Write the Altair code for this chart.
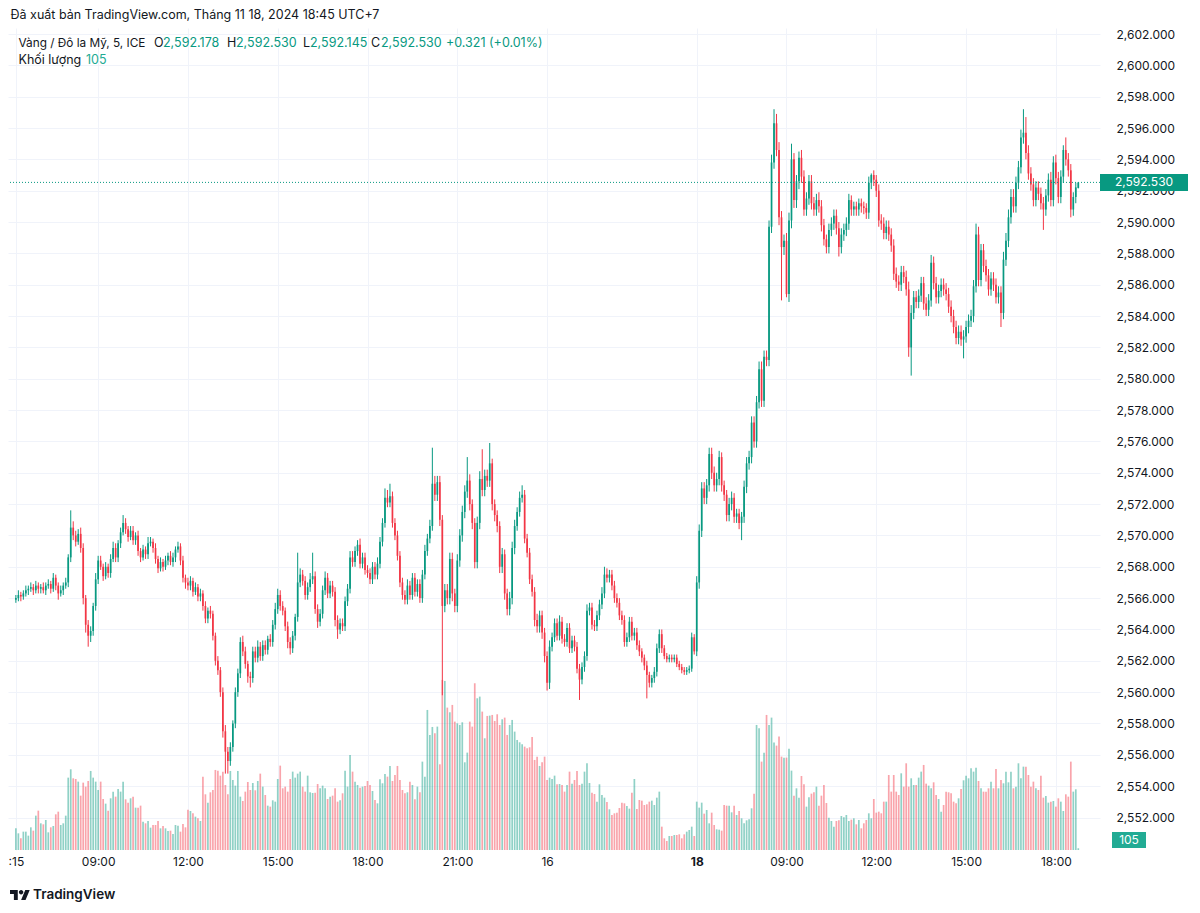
import altair as alt
import pandas as pd

# ---------------- data ----------------
CLOSE = [
 2566.0, 2566.2, 2566.1, 2566.3, 2566.5, 2566.6, 2566.7, 2566.5, 2566.8, 2566.6,
 2566.7, 2566.5, 2566.8, 2566.9, 2566.6, 2567.3, 2566.8, 2566.3, 2566.5, 2566.8,
 2567.0, 2568.6, 2570.5, 2570.0, 2569.6, 2570.1, 2569.2, 2566.0, 2564.3, 2563.6,
 2563.9, 2565.5, 2567.2, 2568.4, 2568.0, 2567.4, 2568.0, 2567.6, 2568.5, 2569.2,
 2568.6, 2569.5, 2570.2, 2570.8, 2570.4, 2569.9, 2570.3, 2569.7, 2570.0, 2569.0,
 2568.6, 2569.1, 2568.8, 2569.5, 2569.6, 2569.2, 2568.5, 2567.9, 2568.3, 2568.0,
 2568.4, 2568.7, 2568.3, 2568.6, 2569.1, 2569.3, 2568.4, 2567.3, 2567.0, 2566.8,
 2567.1, 2566.4, 2566.7, 2566.1, 2566.3, 2565.5, 2564.7, 2565.2, 2565.0, 2563.6,
 2562.0, 2561.4, 2560.0, 2557.5, 2556.2, 2555.6, 2556.5, 2558.0, 2560.0, 2561.2,
 2563.2, 2562.6, 2561.8, 2561.0, 2560.9, 2562.6, 2562.2, 2562.9, 2562.3, 2563.0,
 2562.7, 2563.4, 2563.2, 2564.3, 2565.3, 2566.2, 2565.5, 2565.2, 2564.2, 2563.2,
 2562.8, 2563.6, 2564.8, 2567.0, 2567.5, 2567.1, 2566.2, 2566.7, 2567.2, 2567.4,
 2565.3, 2564.5, 2565.0, 2566.5, 2567.3, 2566.3, 2566.8, 2566.4, 2564.6, 2564.0,
 2564.4, 2564.2, 2565.8, 2566.6, 2568.6, 2568.3, 2569.0, 2569.4, 2568.2, 2568.6,
 2567.8, 2567.6, 2567.2, 2568.0, 2567.5, 2568.2, 2569.6, 2570.8, 2572.4, 2572.1,
 2572.5, 2570.8, 2570.0, 2568.7, 2567.0, 2566.2, 2565.9, 2566.8, 2566.2, 2567.3,
 2566.4, 2566.9, 2566.0, 2567.5, 2569.0, 2569.8, 2570.6, 2573.3, 2572.6, 2573.4,
 2571.0, 2565.5, 2566.5, 2566.0, 2568.5, 2566.3, 2565.5, 2568.4, 2570.0, 2571.5,
 2572.8, 2573.5, 2572.0, 2570.8, 2568.3, 2570.8, 2573.6, 2572.9, 2573.8, 2573.5,
 2574.6, 2572.0, 2571.3, 2570.6, 2568.0, 2568.8, 2566.3, 2565.3, 2566.0, 2569.2,
 2570.6, 2571.5, 2572.4, 2572.6, 2569.8, 2568.9, 2567.2, 2566.4, 2564.6, 2564.2,
 2564.9, 2563.8, 2562.3, 2560.6, 2562.9, 2563.5, 2564.4, 2563.6, 2564.5, 2563.4,
 2563.2, 2564.1, 2562.8, 2563.3, 2562.9, 2561.5, 2560.8, 2561.6, 2562.3, 2565.2,
 2565.4, 2564.3, 2564.2, 2564.9, 2565.6, 2566.3, 2567.5, 2567.3, 2567.5, 2566.8,
 2566.0, 2565.7, 2564.9, 2564.6, 2563.2, 2563.5, 2564.5, 2563.6, 2563.8, 2563.0,
 2562.6, 2562.2, 2561.7, 2561.1, 2560.6, 2560.9, 2561.3, 2562.8, 2563.7, 2562.8,
 2562.3, 2562.1, 2562.2, 2562.1, 2562.2, 2561.8, 2561.6, 2561.4, 2561.3, 2561.4,
 2561.5, 2563.5, 2562.6, 2567.0, 2570.3, 2573.0, 2572.4, 2573.2, 2575.2, 2574.0,
 2573.2, 2573.6, 2575.0, 2573.2, 2572.6, 2571.3, 2572.0, 2572.4, 2571.2, 2571.4,
 2570.8, 2571.2, 2573.1, 2574.6, 2575.0, 2577.2, 2576.0, 2578.5, 2580.6, 2578.6,
 2581.4, 2581.2, 2589.7, 2593.8, 2596.3, 2594.6, 2590.3, 2588.4, 2588.8, 2585.4,
 2590.1, 2594.0, 2591.4, 2592.6, 2594.1, 2592.9, 2590.8, 2591.5, 2592.6, 2591.2,
 2590.8, 2591.4, 2591.0, 2589.8, 2588.9, 2588.4, 2589.5, 2589.9, 2590.4, 2589.6,
 2588.4, 2589.2, 2589.5, 2589.9, 2591.4, 2590.8, 2591.0, 2590.8, 2591.2, 2591.0,
 2590.9, 2590.6, 2592.5, 2593.0, 2592.7, 2592.0, 2590.1, 2589.9, 2589.3, 2589.7,
 2589.2, 2588.5, 2586.7, 2586.2, 2586.0, 2586.8, 2586.5, 2585.7, 2582.0, 2584.2,
 2585.2, 2584.9, 2585.3, 2586.1, 2584.8, 2584.4, 2585.0, 2587.4, 2586.1, 2585.2,
 2585.6, 2586.0, 2585.7, 2585.4, 2584.6, 2584.0, 2583.3, 2582.6, 2583.0, 2582.5,
 2582.7, 2583.3, 2583.7, 2584.0, 2585.9, 2589.2, 2586.3, 2588.2, 2587.2, 2586.6,
 2585.7, 2586.4, 2586.0, 2585.2, 2585.5, 2584.2, 2587.6, 2588.8, 2590.3, 2591.6,
 2591.0, 2592.5, 2593.5, 2595.4, 2595.7, 2594.4, 2593.1, 2592.4, 2591.4, 2592.2,
 2591.8, 2591.2, 2590.8, 2591.7, 2592.7, 2591.4, 2593.8, 2592.8, 2591.6, 2592.9,
 2594.6, 2594.0, 2593.3, 2590.8, 2591.6, 2592.21, 2592.53]

# upper / lower wick lengths, in tenths of a dollar
UP_WICK = [
 2,3,2,2,3,2,3,2,3,2, 2,3,2,3,2,3,2,2,3,2, 3,2,11,4,3,3,4,3,2,3, 3,2,4,3,3,2,3,2,3,4,
 3,2,3,5,3,2,3,3,2,3, 2,3,2,4,3,2,3,2,3,2, 3,2,3,3,2,3,2,3,2,3, 3,2,3,2,3,2,3,2,3,2,
 2,3,2,3,4,3,3,2,3,3, 3,4,3,2,3,3,3,4,3,3, 3,2,3,3,4,4,3,3,2,3, 3,3,2,19,4,3,3,3,4,15,
 3,3,3,3,4,3,3,3,3,3, 3,3,3,3,4,4,3,3,4,3, 3,3,3,3,3,4,3,3,6,5, 8,3,3,3,3,3,3,4,3,3,
 3,3,3,3,4,3,4,23,5,4, 4,3,4,4,4,4,3,4,4,4, 4,15,4,3,3,4,5,19,4,4, 13,3,3,3,3,4,3,3,4,4,
 4,3,4,6,3,3,3,3,3,4, 3,3,3,3,4,3,3,3,4,3, 3,3,3,3,3,3,3,3,3,4, 3,3,3,3,3,4,5,4,3,3,
 3,3,3,3,3,3,3,3,3,3, 3,2,2,3,2,2,3,3,3,3, 2,2,2,2,2,2,2,2,2,2, 2,3,2,4,4,4,4,4,4,4,
 4,4,4,3,3,3,4,4,3,3, 3,3,4,4,4,4,4,4,5,5, 4,4,4,5,9,6,5,4,4,5, 5,10,4,4,4,5,4,4,4,4,
 4,4,5,4,4,3,4,4,4,4, 4,4,4,4,4,3,3,3,3,3, 3,3,4,1,3,3,4,4,4,4, 4,4,4,4,4,4,4,4,5,5,
 4,4,4,4,4,4,4,5,4,4, 4,4,4,4,4,4,4,4,4,4, 4,4,4,4,4,7,5,4,4,4, 4,4,4,4,4,4,5,5,5,5,
 5,4,4,5,15,10,5,4,4,4, 4,4,4,4,4,5,4,5,4,4, 3,8,4,4,3,3,0]
DOWN_WICK = [
 2,2,3,2,2,3,2,3,2,3, 3,2,3,2,3,2,3,4,2,3, 2,3,3,3,3,2,3,4,5,7, 4,3,3,3,2,3,2,3,3,2,
 3,3,3,2,3,3,2,3,3,3, 3,2,3,3,2,3,3,3,2,3, 2,3,2,3,3,2,3,3,4,3, 3,3,2,3,3,3,3,3,3,3,
 3,3,3,4,14,8,3,3,3,3, 3,3,3,4,6,3,3,3,3,3, 3,3,3,3,3,3,3,3,3,4, 4,3,3,3,3,3,3,3,3,3,
 3,4,3,3,3,3,3,3,4,6, 3,3,3,3,3,3,3,3,3,3, 3,3,3,3,3,3,3,3,3,3, 3,3,3,3,3,3,3,3,3,3,
 3,3,3,3,3,3,3,3,4,4, 4,57,4,4,4,5,4,4,4,4, 4,4,4,4,4,4,4,4,4,4, 4,4,4,4,4,4,4,4,4,4,
 4,3,3,3,3,3,3,3,4,4, 4,4,4,5,4,3,3,3,3,3, 3,3,3,3,3,3,13,3,3,3, 3,3,3,3,3,3,3,3,3,3,
 3,3,3,3,3,3,3,3,3,3, 3,3,3,15,3,3,3,3,3,3, 2,2,2,2,2,2,2,2,2,2, 2,2,2,3,4,4,4,4,4,4,
 4,4,4,4,4,4,4,4,4,4, 4,11,4,4,4,4,4,4,4,4, 4,4,4,4,4,4,5,34,5,2, 5,5,5,5,5,4,4,4,4,4,
 4,4,4,4,4,4,4,4,4,4, 6,4,4,4,4,4,4,4,4,4, 4,4,4,4,4,4,4,4,4,4, 4,4,4,4,4,4,4,4,6,18,
 4,4,4,4,4,4,4,4,4,4, 4,4,4,4,4,4,4,4,4,4, 12,4,4,4,4,4,4,4,4,4, 4,4,4,4,4,9,4,4,4,4,
 4,4,4,4,4,4,4,4,4,4, 4,4,13,4,4,4,4,4,4,4, 4,4,4,5,4,4,0]
VOLUME = [
 1300,1000,700,1100,1100,860,1360,1160,2060,2360, 1600,1540,1800,1060,1360,1440,2140,2300,1500,1600,
 2060,4340,4840,4300,4260,4100,3260,4040,3800,4140, 4740,4340,4100,3600,4100,3060,2780,2360,3100,3500,
 3200,3660,3500,4100,3040,2840,3100,3200,2540,2540, 2660,1700,1600,1740,1340,1500,1500,1740,1300,1440,
 1300,1140,1160,960,1500,1460,1100,1560,1360,2420, 2340,2200,2000,1900,1740,4400,3340,2840,3460,3600,
 4800,4760,4460,4700,3900,3340,4740,4200,3860,4740, 3200,2940,3500,4080,3600,4020,3580,4140,4580,3800,
 3300,2660,2600,2980,2900,4260,5060,3700,3800,3500, 4260,4700,4340,4580,4700,3800,3500,4460,3460,3420,
 3440,3960,3700,3860,3700,3060,3200,3260,3700,2900, 2980,3400,4760,3800,5700,4700,4100,3900,3740,3800,
 3840,4140,3900,3540,3000,2800,4240,4000,4560,4400, 5040,4140,4500,5040,4200,3600,3400,3460,4100,3900,
 3040,3800,3460,5300,4400,8400,6900,7380,7000,7400, 5140,10200,10140,8540,8260,8700,7700,7600,7500,7660,
 5260,5840,7700,7400,10000,9100,9200,8300,6700,8040, 8060,8100,7740,8140,7500,7840,7940,6900,7500,7800,
 7100,6600,6460,6340,6200,6100,6160,6780,5400,5600, 5040,5260,5600,4200,4340,4260,4460,3940,3960,3900,
 3500,3900,4700,3980,4200,4740,3900,3980,4700,5200, 4020,3440,3360,2900,3940,3300,3140,2880,2440,2100,
 2200,2240,2520,2840,2800,2640,2480,3440,4260,2460, 3000,2960,2700,2740,2900,2960,2700,3140,3500,1400,
 700,540,840,840,900,900,940,700,940,1100, 1200,1400,840,2900,2540,2840,2180,2400,1600,2240,
 1500,1240,1220,1160,2700,2660,2660,2260,2660,2100, 2340,1900,1600,1780,1840,2500,3380,7500,7300,5300,
 5840,8100,7500,7940,6440,6260,6800,5600,5540,5540, 6080,4760,3260,3700,3140,4440,3940,2600,3160,3380,
 3460,3800,2660,3260,3900,2820,1940,1740,1400,1740, 1780,2040,1960,2100,1740,1820,1900,1540,1800,1300,
 1600,1800,2200,1900,3060,2240,2300,2200,2900,2900, 4500,3500,4500,3500,3300,4600,3800,5200,3800,4300,
 3900,3900,4340,4700,5100,3980,3860,3700,4060,3300, 3060,2300,2700,3500,3460,3400,2900,2800,3100,3660,
 4180,4460,4300,4900,4700,4940,4140,3700,3500,3500, 3700,4100,3700,4860,3700,4200,4000,4700,4060,4700,
 3700,3800,5200,4300,5000,5000,4500,3800,4100,3700, 3600,4460,3140,3240,2840,2900,2940,2600,3100,2900,
 2340,3340,3200,5300,3500,3640,105]

FIRST_OPEN = 2565.9
LAST_OPEN, LAST_HIGH, LAST_LOW, LAST_CLOSE = 2592.178, 2592.530, 2592.145, 2592.530
LAST_VOLUME = 105

X_TICK_IDX = [0, 33, 69, 105, 141, 177, 213, 273, 309, 345, 381, 417]
X_TICK_LABELS = [":15", "09:00", "12:00", "15:00", "18:00", "21:00", "16", "18",
                 "09:00", "12:00", "15:00", "18:00"]
BOLD_TICK = 273
PRICE_TICKS = [2552, 2554, 2556, 2558, 2560, 2562, 2564, 2566, 2568, 2570, 2572, 2574, 2576,
               2578, 2580, 2582, 2584, 2586, 2588, 2590, 2592, 2594, 2596, 2598, 2600, 2602]

HEADER = "Đã xuất bản TradingView.com, Tháng 11 18, 2024 18:45 UTC+7"
SYMBOL = "Vàng / Đô la Mỹ, 5, ICE"
OHLC_KEYS = ["O", "H", "L", "C"]
OHLC_VALS = ["2,592.178", "2,592.530", "2,592.145", "2,592.530"]
CHANGE = "+0.321 (+0.01%)"
VOL_TITLE = "Khối lượng"
VOL_VALUE = "105"
LOGO_TEXT = "TradingView"

# ---------------- styling ----------------
FONT = "Inter"
TXT = "#131722"
GRID = "#f0f3fa"
UPC = "#089981"
DNC = "#f23645"
VOLC = "#22ab94"

n = min(len(CLOSE), len(UP_WICK), len(DOWN_WICK), len(VOLUME))
close = CLOSE[:n]
opens = [FIRST_OPEN] + close[:-1]
opens[-1] = LAST_OPEN
highs = [max(o, c) + u / 10 for o, c, u in zip(opens, close, UP_WICK[:n])]
lows = [min(o, c) - d / 10 for o, c, d in zip(opens, close, DOWN_WICK[:n])]
highs[-1], lows[-1] = LAST_HIGH, LAST_LOW
df = pd.DataFrame({"i": list(range(n)), "o": opens, "c": close, "h": highs, "l": lows,
                   "v": VOLUME[:n]})

W, H = 1092, 822
xscale = alt.Scale(domain=[-1.15, 432.7], nice=False, zero=False)
yscale = alt.Scale(domain=[2549.926, 2602.383], nice=False, zero=False)

label_expr = ("[" + ",".join("'%s'" % s for s in X_TICK_LABELS) + "][indexof(["
              + ",".join(str(v) for v in X_TICK_IDX) + "], datum.value)]")
xaxis = alt.Axis(values=X_TICK_IDX, labelExpr=label_expr, title=None, grid=True,
                 gridColor=GRID, ticks=False, domain=False, labelFontSize=12,
                 labelColor=TXT, labelPadding=6, labelOverlap=False, labelFlush=False,
                 labelBound=False, labelFont=FONT,
                 labelFontWeight={"condition": {"test": "datum.value == %d" % BOLD_TICK,
                                                "value": "bold"}, "value": "normal"})
yaxis = alt.Axis(orient="right", values=PRICE_TICKS, format=",.3f", title=None, grid=True,
                 gridColor=GRID, ticks=False, domain=False, labelFontSize=12,
                 labelColor=TXT, labelPadding=16, labelOverlap=False, labelFont=FONT)

X = alt.X("i:Q", scale=xscale, axis=xaxis)
col = alt.condition("datum.c >= datum.o", alt.value(UPC), alt.value(DNC))

vol = alt.Chart(df).mark_bar(size=1.7, opacity=0.45).encode(
    x=X, y=alt.Y("v:Q", scale=alt.Scale(domain=[0, 49300], nice=False), axis=None),
    color=col)

wick = alt.Chart(df).mark_rule(strokeWidth=1).encode(
    x=X, y=alt.Y("l:Q", scale=yscale, axis=yaxis), y2="h:Q", color=col)
body = alt.Chart(df).mark_bar(size=1.7).encode(
    x=X, y=alt.Y("o:Q", scale=yscale, axis=yaxis), y2="c:Q", color=col)

last = pd.DataFrame({"p": [LAST_CLOSE], "label": ["{:,.3f}".format(LAST_CLOSE)]})
pline = alt.Chart(last).mark_rule(color=UPC, strokeDash=[1, 2], strokeWidth=1).encode(
    y=alt.Y("p:Q", scale=yscale, axis=yaxis))
RECT = "M-1,-0.193H1V0.193H-1Z"
pbox = alt.Chart(last).mark_point(shape=RECT, size=7744, filled=True, opacity=1,
                                  color=UPC, strokeWidth=0).encode(
    x=alt.value(1136), y=alt.Y("p:Q", scale=yscale, axis=yaxis))
ptext = alt.Chart(last).mark_text(color="white", font=FONT, fontSize=12).encode(
    x=alt.value(1136), y=alt.Y("p:Q", scale=yscale, axis=yaxis), text="label:N")


def txt(s, px, py, color=TXT, size=12.5, weight="normal"):
    return alt.Chart(pd.DataFrame({"t": [s]})).mark_text(
        align="left", baseline="middle", font=FONT, fontSize=size, fontWeight=weight,
        color=color).encode(x=alt.value(px - 8), y=alt.value(py - 28), text="t:N")


texts = [txt(HEADER, 10.5, 15, size=12.5),
         txt(SYMBOL, 18.5, 43, size=11.8),
         txt(OHLC_KEYS[0], 154, 43), txt(OHLC_VALS[0], 163, 43, UPC),
         txt(OHLC_KEYS[1], 227, 43), txt(OHLC_VALS[1], 236, 43, UPC),
         txt(OHLC_KEYS[2], 303, 43), txt(OHLC_VALS[2], 310, 43, UPC),
         txt(OHLC_KEYS[3], 371, 43), txt(OHLC_VALS[3], 381, 43, UPC),
         txt(CHANGE, 446, 43, UPC),
         txt(VOL_TITLE, 18.5, 60), txt(VOL_VALUE, 86, 60, VOLC),
         txt(LOGO_TEXT, 33, 895, size=13.5, weight=600)]

vbox = alt.Chart(pd.DataFrame({"t": [str(LAST_VOLUME)]})).mark_point(
    shape="M-1,-0.47H1V0.47H-1Z", size=1156, filled=True, opacity=1, color=VOLC,
    strokeWidth=0).encode(x=alt.value(1121), y=alt.value(812))
vtext = alt.Chart(pd.DataFrame({"t": [str(LAST_VOLUME)]})).mark_text(
    color="white", font=FONT, fontSize=12).encode(
    x=alt.value(1121), y=alt.value(812), text="t:N")

LOGO = ("M-0.222,0.5H-0.611V-0.111H-1V-0.5H-0.222Z"
        "M0.556,0.5H0.111L0.528,-0.5H0.972Z"
        "M-0.111,-0.278a0.222,0.222 0 1,0 0.444,0a0.222,0.222 0 1,0 -0.444,0Z")
logo = alt.Chart(pd.DataFrame({"t": ["logo"]})).mark_point(
    shape=LOGO, size=400, filled=True, opacity=1, color=TXT, strokeWidth=0).encode(
    x=alt.value(20 - 8), y=alt.value(895 - 28))

price_layer = alt.layer(wick, body, pline, pbox, ptext, vbox, vtext, logo, *texts)
chart = alt.layer(vol, price_layer).resolve_scale(y="independent").properties(
    width=W, height=H,
    padding={"left": 0, "top": 20, "right": 92, "bottom": 55},
    autosize=alt.AutoSizeParams(type="none"),
    background="white",
).configure_view(stroke=None)

chart.save("out.html", embed_options={"renderer": "svg", "actions": False})
